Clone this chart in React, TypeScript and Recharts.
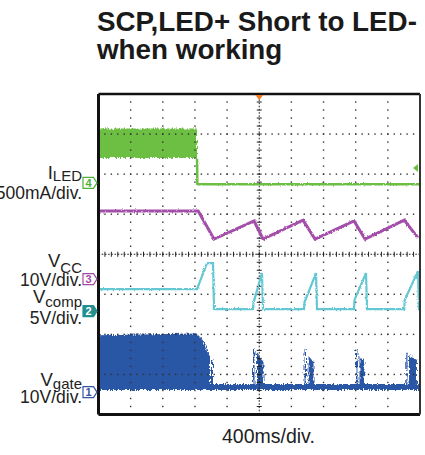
import {
  Area,
  ComposedChart,
  Line,
  ReferenceDot,
  ReferenceLine,
  XAxis,
  YAxis,
} from "recharts";

// Scope screen: 10 div across at 400 ms/div, 8 div tall.
// Trace levels are given in screen divisions from the centre line.
const timeDomain = [-2000, 2000];
const levelDomain = [-4, 4];
const gridTimes = [-1600, -1200, -800, -400, 400, 800, 1200, 1600];
const gridLevels = [-3, -2, -1, 1, 2, 3];
const minorTimeTicks = Array.from({ length: 51 }, (_, i) => -2000 + i * 80);
const minorLevelTicks = Array.from({ length: 41 }, (_, i) => -4 + i * 0.2);

// CH4 ILED: switching band while running, then collapses to zero after the short
const iledBand = [
  { t: -2000, v: [2.4, 3.14] },
  { t: -774, v: [2.4, 3.14] },
];
const iledAfter = [
  { t: -774, v: 2.4 },
  { t: -770, v: 1.75 },
  { t: 2000, v: 1.75 },
];

// CH3 (purple) sawtooth during hiccup
const ch3Trace = [
  { t: -2000, v: 1.08 },
  { t: -760, v: 1.08 },
  { t: -563, v: 0.38 },
  { t: -65, v: 0.83 },
  { t: 47, v: 0.38 },
  { t: 544, v: 0.85 },
  { t: 694, v: 0.38 },
  { t: 1179, v: 0.83 },
  { t: 1316, v: 0.38 },
  { t: 1804, v: 0.85 },
  { t: 1975, v: 0.41 },
];

// CH2 (cyan) restart ramps
const ch2Trace = [
  { t: -2000, v: -0.87 },
  { t: -774, v: -0.87 },
  { t: -650, v: -0.22 },
  { t: -575, v: -0.22 },
  { t: -563, v: -1.37 },
  { t: -78, v: -1.37 },
  { t: -70, v: -1.2 },
  { t: 34, v: -0.47 },
  { t: 47, v: -1.37 },
  { t: 557, v: -1.37 },
  { t: 563, v: -1.2 },
  { t: 706, v: -0.47 },
  { t: 718, v: -1.37 },
  { t: 1179, v: -1.37 },
  { t: 1185, v: -1.14 },
  { t: 1328, v: -0.47 },
  { t: 1341, v: -1.37 },
  { t: 1804, v: -1.37 },
  { t: 1810, v: -1.14 },
  { t: 1975, v: -0.42 },
  { t: 1987, v: -1.37 },
  { t: 2000, v: -1.37 },
];

// CH1 Vgate envelope [low, high]
const gateEnvelope = [
  { t: -2000, v: [-3.39, -2.02] },
  { t: -790, v: [-3.39, -1.98] },
  { t: -737, v: [-3.39, -2.05] },
  { t: -675, v: [-3.39, -2.27] },
  { t: -638, v: [-3.39, -2.46] },
  { t: -613, v: [-3.39, -2.55] },
  { t: -613, v: [-3.39, -3.24] },
  { t: -600, v: [-3.39, -3.24] },
  { t: -600, v: [-3.39, -2.64] },
  { t: -575, v: [-3.39, -2.66] },
  { t: -575, v: [-3.39, -3.24] },
  { t: -78, v: [-3.39, -3.24] },
  { t: -78, v: [-3.39, -2.34] },
  { t: -59, v: [-3.39, -2.34] },
  { t: -59, v: [-3.39, -3.24] },
  { t: -28, v: [-3.39, -3.24] },
  { t: -28, v: [-3.39, -2.47] },
  { t: 53, v: [-3.39, -2.69] },
  { t: 53, v: [-3.39, -3.24] },
  { t: 563, v: [-3.39, -3.24] },
  { t: 563, v: [-3.39, -2.37] },
  { t: 582, v: [-3.39, -2.37] },
  { t: 582, v: [-3.39, -3.24] },
  { t: 613, v: [-3.39, -3.24] },
  { t: 613, v: [-3.39, -2.54] },
  { t: 675, v: [-3.39, -2.69] },
  { t: 675, v: [-3.39, -3.24] },
  { t: 1204, v: [-3.39, -3.24] },
  { t: 1204, v: [-3.39, -2.37] },
  { t: 1222, v: [-3.39, -2.37] },
  { t: 1222, v: [-3.39, -3.24] },
  { t: 1247, v: [-3.39, -3.24] },
  { t: 1247, v: [-3.39, -2.54] },
  { t: 1309, v: [-3.39, -2.69] },
  { t: 1309, v: [-3.39, -3.24] },
  { t: 1829, v: [-3.39, -3.24] },
  { t: 1829, v: [-3.39, -2.46] },
  { t: 1844, v: [-3.39, -2.46] },
  { t: 1844, v: [-3.39, -3.24] },
  { t: 1863, v: [-3.39, -3.24] },
  { t: 1863, v: [-3.39, -2.52] },
  { t: 1962, v: [-3.39, -2.64] },
  { t: 1962, v: [-3.39, -3.24] },
  { t: 2000, v: [-3.39, -3.24] },
];

// channel ground markers on the left edge
const channelMarkers = [
  { id: "4", level: 1.78, color: "#4fae3a", filled: false },
  { id: "3", level: -0.62, color: "#a04aa6", filled: false },
  { id: "2", level: -1.42, color: "#238f8f", filled: true },
  { id: "1", level: -3.44, color: "#3553a3", filled: false },
];
const triggerLevel = 2.15;

const COLORS = {
  iled: "#6cbf43",
  ch3: "#a34fa9",
  ch2: "#64c8d4",
  gate: "#2b57a6",
  trigger: "#f07b28",
};

const FONT = '"Liberation Sans", Arial, Helvetica, sans-serif';

function Crosshair(props: any) {
  const { x1, y1, x2, y2 } = props;
  const vertical = Math.abs(x1 - x2) < 0.5;
  const n = vertical ? 40 : 50;
  const marks = [];
  for (let i = 1; i < n; i++) {
    const x = x1 + ((x2 - x1) * i) / n;
    const y = y1 + ((y2 - y1) * i) / n;
    marks.push(
      vertical ? (
        <line key={i} x1={x - 2.5} x2={x + 2.5} y1={y} y2={y} />
      ) : (
        <line key={i} x1={x} x2={x} y1={y - 2.5} y2={y + 2.5} />
      )
    );
  }
  return (
    <g stroke="#222" strokeWidth={1}>
      <line x1={x1} y1={y1} x2={x2} y2={y2} strokeDasharray="1.6 1.6" />
      {marks}
    </g>
  );
}

// dotted graticule line, one dot per minor division
function DottedLine(props: any) {
  const { x1, y1, x2, y2 } = props;
  const vertical = Math.abs(x1 - x2) < 0.5;
  const n = vertical ? 40 : 50;
  const dots = [];
  for (let i = 1; i < n; i++) {
    const x = x1 + ((x2 - x1) * i) / n;
    const y = y1 + ((y2 - y1) * i) / n;
    dots.push(<rect key={i} x={x - 0.7} y={y - 0.7} width={1.4} height={1.4} />);
  }
  return <g fill="#333">{dots}</g>;
}

function ChannelMarker(props: any) {
  const { cx, cy, id, color, filled } = props;
  const d = `M${cx - 15.5},${cy - 5.5} H${cx - 5} L${cx - 1.5},${cy} L${cx - 5},${cy + 5.5} H${cx - 15.5} Z`;
  return (
    <g>
      <path d={d} fill={filled ? color : "#fff"} stroke={color} strokeWidth={1.2} />
      <text
        x={cx - 10}
        y={cy + 4}
        textAnchor="middle"
        fontSize={11}
        fontWeight="bold"
        fontFamily={FONT}
        fill={filled ? "#fff" : color}
      >
        {id}
      </text>
    </g>
  );
}

function TriggerArrow(props: any) {
  const { cx, cy } = props;
  return (
    <path
      d={`M${cx - 7},${cy} L${cx - 2},${cy - 4} L${cx - 2},${cy + 4} Z`}
      fill={COLORS.iled}
    />
  );
}

function TriggerPosition(props: any) {
  const { cx, cy } = props;
  return (
    <path
      d={`M${cx - 4},${cy + 1} L${cx + 4},${cy + 1} L${cx},${cy + 6} Z`}
      fill={COLORS.trigger}
    />
  );
}

function ScopeChart() {
  return (
    <ComposedChart
      width={425}
      height={455}
      margin={{ top: 94, left: 98.5, right: 5, bottom: 40.5 }}
    >
      <XAxis
        type="number"
        dataKey="t"
        domain={timeDomain}
        allowDataOverflow
        ticks={minorTimeTicks}
        interval={0}
        tick={false}
        mirror
        tickSize={3}
        tickLine={{ stroke: "#111" }}
        axisLine={{ stroke: "#111", strokeWidth: 3 }}
      />
      <XAxis
        xAxisId="top"
        orientation="top"
        type="number"
        dataKey="t"
        domain={timeDomain}
        allowDataOverflow
        ticks={minorTimeTicks}
        interval={0}
        tick={false}
        mirror
        tickSize={3}
        tickLine={{ stroke: "#111" }}
        axisLine={{ stroke: "#111", strokeWidth: 2.5 }}
      />
      <YAxis
        type="number"
        domain={levelDomain}
        allowDataOverflow
        ticks={minorLevelTicks}
        interval={0}
        tick={false}
        mirror
        tickSize={3}
        tickLine={{ stroke: "#111" }}
        axisLine={{ stroke: "#111", strokeWidth: 3 }}
      />
      <YAxis
        yAxisId="right"
        orientation="right"
        type="number"
        domain={levelDomain}
        allowDataOverflow
        ticks={minorLevelTicks}
        interval={0}
        tick={false}
        mirror
        tickSize={3}
        tickLine={{ stroke: "#333" }}
        axisLine={{ stroke: "#333", strokeWidth: 2 }}
      />

      {gridTimes.map((t) => (
        <ReferenceLine key={`gx${t}`} x={t} shape={DottedLine} />
      ))}
      {gridLevels.map((l) => (
        <ReferenceLine key={`gy${l}`} y={l} shape={DottedLine} />
      ))}
      <ReferenceLine x={0} stroke="#222" shape={Crosshair} />
      <ReferenceLine y={0} stroke="#222" shape={Crosshair} />

      <Area
        data={gateEnvelope}
        dataKey="v"
        type="linear"
        stroke="none"
        fill={COLORS.gate}
        fillOpacity={1}
        className="band-grain"
        isAnimationActive={false}
      />
      <Area
        data={iledBand}
        dataKey="v"
        type="linear"
        stroke="none"
        fill={COLORS.iled}
        fillOpacity={1}
        className="band-grain"
        isAnimationActive={false}
      />
      <Line
        data={iledAfter}
        dataKey="v"
        type="linear"
        stroke={COLORS.iled}
        strokeWidth={2.5}
        dot={false}
        className="trace-grain"
        isAnimationActive={false}
      />
      <Line
        data={ch3Trace}
        dataKey="v"
        type="linear"
        stroke={COLORS.ch3}
        strokeWidth={3}
        dot={false}
        className="trace-grain"
        isAnimationActive={false}
      />
      <Line
        data={ch2Trace}
        dataKey="v"
        type="linear"
        stroke={COLORS.ch2}
        strokeWidth={2.2}
        dot={false}
        className="trace-grain"
        isAnimationActive={false}
      />

      {channelMarkers.map((m) => (
        <ReferenceDot
          key={m.id}
          x={-2000}
          y={m.level}
          ifOverflow="visible"
          shape={(p: any) => <ChannelMarker {...p} id={m.id} color={m.color} filled={m.filled} />}
        />
      ))}
      <ReferenceDot x={2000} y={triggerLevel} ifOverflow="visible" shape={TriggerArrow} />
      <ReferenceDot x={0} y={4} ifOverflow="visible" shape={TriggerPosition} />
    </ComposedChart>
  );
}

export default function App() {
  return (
    <div style={{ position: "absolute", left: 0, top: 0, width: 425, height: 455, background: "#fff" }}>
      <style>{`
        .band-grain { filter: url(#bandGrain); }
        .trace-grain { filter: url(#traceGrain); }
      `}</style>
      <ScopeChart />
      <svg
        width={425}
        height={455}
        style={{ position: "absolute", left: 0, top: 0, pointerEvents: "none" }}
        fontFamily={FONT}
        fill="#222"
      >
        <defs>
          <filter id="bandGrain" filterUnits="userSpaceOnUse" x="0" y="0" width="425" height="455">
            <feTurbulence type="fractalNoise" baseFrequency="0.9 0.25" numOctaves={2} seed={4} result="grain" />
            <feDisplacementMap in="SourceGraphic" in2="grain" scale={5} xChannelSelector="R" yChannelSelector="G" />
          </filter>
          <filter id="traceGrain" filterUnits="userSpaceOnUse" x="0" y="0" width="425" height="455">
            <feTurbulence type="fractalNoise" baseFrequency="0.9 0.4" numOctaves={2} seed={9} result="grain" />
            <feDisplacementMap in="SourceGraphic" in2="grain" scale={2.5} xChannelSelector="R" yChannelSelector="G" />
          </filter>
        </defs>

        <text x={97} y={31} fontSize={27.8} fontWeight="bold" fill="#1a1a1a">
          SCP,LED+ Short to LED-
        </text>
        <text x={97} y={59} fontSize={27.8} fontWeight="bold" fill="#1a1a1a">
          when working
        </text>

        <text x={82} y={179} textAnchor="end" fontSize={18.5}>
          I<tspan fontSize={15} dy={2}>LED</tspan>
        </text>
        <text x={82} y={199} textAnchor="end" fontSize={17.5}>
          500mA/div.
        </text>

        <text x={82} y={267} textAnchor="end" fontSize={18.5}>
          V<tspan fontSize={15} dy={6}>CC</tspan>
        </text>
        <text x={82} y={286} textAnchor="end" fontSize={17.5}>
          10V/div.
        </text>

        <text x={82} y={303} textAnchor="end" fontSize={18.5}>
          V<tspan fontSize={15} dy={4}>comp</tspan>
        </text>
        <text x={82} y={324} textAnchor="end" fontSize={17.5}>
          5V/div.
        </text>

        <text x={82} y={386} textAnchor="end" fontSize={18.5}>
          V<tspan fontSize={15} dy={3}>gate</tspan>
        </text>
        <text x={82} y={403} textAnchor="end" fontSize={17.5}>
          10V/div.
        </text>

        <text x={222} y={443} fontSize={19.5}>
          400ms/div.
        </text>
      </svg>
    </div>
  );
}
